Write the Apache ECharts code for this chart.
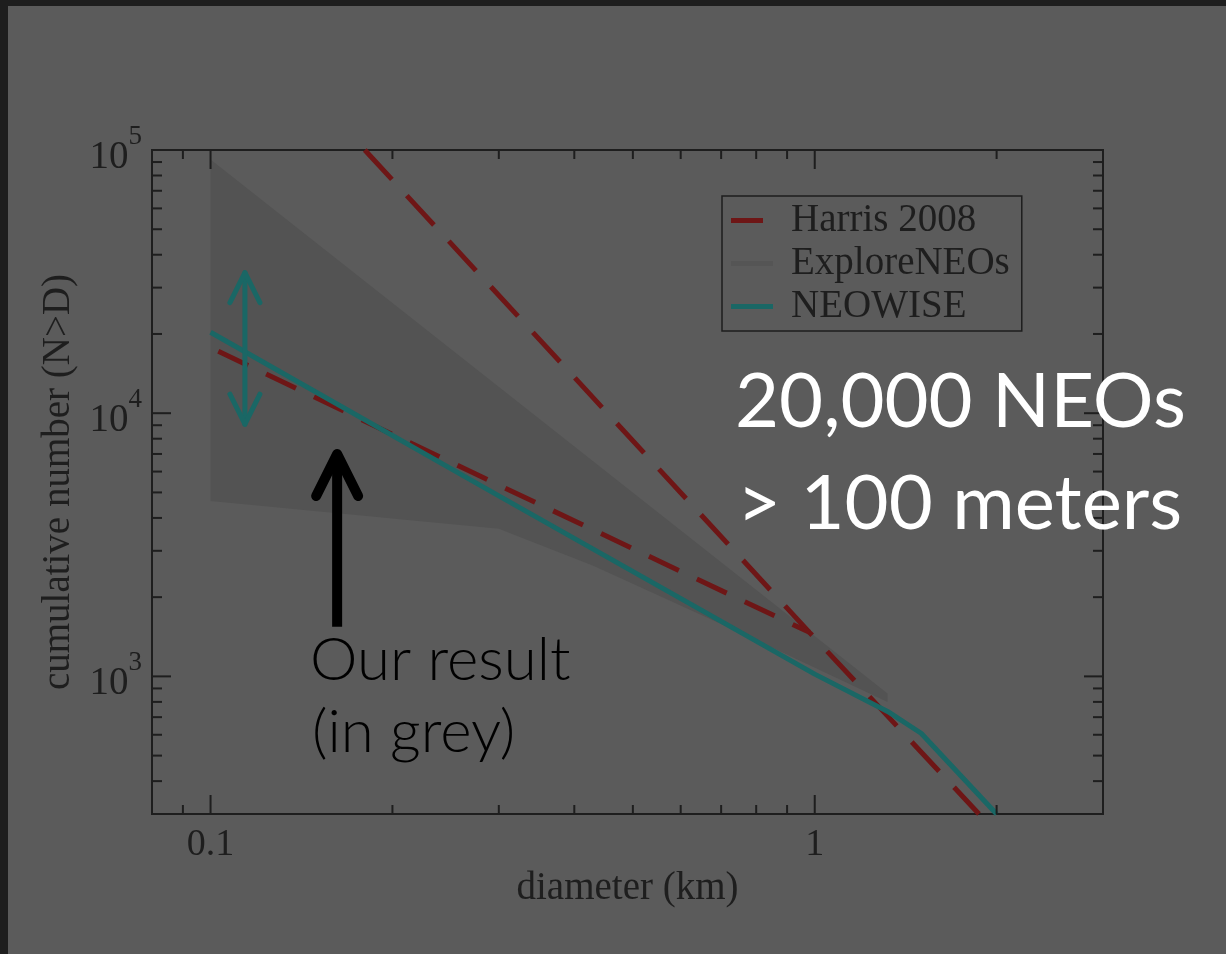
<!DOCTYPE html>
<html>
<head>
<meta charset="utf-8">
<script src="https://cdn.jsdelivr.net/npm/echarts@6/dist/echarts.min.js"></script>
<style>
html,body{margin:0;padding:0;background:#5b5b5b;}
#chart{width:1226px;height:954px;}
</style>
</head>
<body>
<div id="chart"></div>
<script>
// ---- data ----
const xRange = [0.08, 3];
const yRange = [300, 100000];
const xMajorTicks = [0.1, 1];
const xMinorTicks = [0.09, 0.2, 0.3, 0.4, 0.5, 0.6, 0.7, 0.8, 0.9, 2];
const yMajorTicks = [1000, 10000, 100000];
const yMinorTicks = [400, 500, 600, 700, 800, 900,
  2000, 3000, 4000, 5000, 6000, 7000, 8000, 9000,
  20000, 30000, 40000, 50000, 60000, 70000, 80000, 90000];
const harrisSteep = [[0.18, 100000], [0.98, 1470], [1.87, 300]];
const harrisShallow = [[0.103, 17200], [0.3, 5330], [0.98, 1470]];
const neowise = [[0.1, 20300], [0.3, 4850], [1, 1020], [1.32, 736], [1.5, 608], [2.0, 300]];
const exploreUpper = [[0.1, 92000], [1.32, 860]];
const exploreLower = [[0.1, 4640], [0.3, 3640], [0.43, 2630], [0.79, 1394], [1.32, 800]];
const tealArrow = [[0.114, 34200], [0.114, 9080]];
const blackArrow = [[0.162, 7000], [0.162, 1545]];

const DARK = '#1e1e1e', RED = '#6e1616', TEAL = '#1a6765', SHADE = '#535353';
const SERIF = 'Liberation Serif';

const chart = echarts.init(document.getElementById('chart'));

function isDecade(v) {
  const l = Math.log10(v);
  return Math.abs(l - Math.round(l)) < 1e-6;
}

const explorePoly = exploreUpper.concat(exploreLower.slice().reverse());

const option = {
  backgroundColor: '#5b5b5b',
  animation: false,
  grid: { left: 152, right: 123, top: 150, bottom: 140, show: true, borderColor: DARK, borderWidth: 2, backgroundColor: 'transparent' },
  xAxis: {
    type: 'log', logBase: 10, min: xRange[0], max: xRange[1],
    axisLine: { show: false }, axisTick: { show: false }, splitLine: { show: false },
    axisLabel: {
      margin: 12, color: DARK, fontFamily: SERIF, fontSize: 38,
      formatter: function (v) {
        if (Math.abs(v - 0.1) < 1e-9) return '0.1';
        if (Math.abs(v - 1) < 1e-9) return '1';
        return '';
      }
    },
    name: 'diameter (km)', nameLocation: 'middle', nameGap: 48,
    nameTextStyle: { color: DARK, fontFamily: SERIF, fontSize: 39 }
  },
  yAxis: {
    type: 'log', logBase: 10, min: yRange[0], max: yRange[1],
    axisLine: { show: false }, axisTick: { show: false }, splitLine: { show: false },
    axisLabel: {
      margin: 9, color: DARK,
      formatter: function (v) {
        if (!isDecade(v)) return '';
        return '{b|10}{s|' + Math.round(Math.log10(v)) + '}{h| }';
      },
      rich: {
        b: { fontFamily: SERIF, fontSize: 39, lineHeight: 38, color: DARK, verticalAlign: 'bottom' },
        s: { fontFamily: SERIF, fontSize: 27, lineHeight: 26, color: DARK, verticalAlign: 'top' },
        h: { fontSize: 1, lineHeight: 54, width: 1 }
      }
    },
    name: 'cumulative number (N>D)', nameLocation: 'middle', nameGap: 70, nameRotate: 90,
    nameTextStyle: { color: DARK, fontFamily: SERIF, fontSize: 39 }
  },
  legend: {
    orient: 'vertical', left: 722, top: 196,
    padding: [5, 12, 5, 9], itemGap: 4, itemWidth: 42, itemHeight: 14,
    borderColor: DARK, borderWidth: 1.5, selectedMode: false,
    textStyle: { fontFamily: SERIF, fontSize: 39, lineHeight: 39, color: DARK, padding: [0, 0, 0, 13] },
    data: [
      { name: 'Harris 2008', icon: 'path://M0 0H32V5H0ZM42 2.5', itemStyle: { color: RED, borderWidth: 0 } },
      { name: 'ExploreNEOs', icon: 'path://M0 0H42V5H0Z', itemStyle: { color: '#555555', borderWidth: 0 } },
      { name: 'NEOWISE', icon: 'path://M0 0H42V5H0Z', itemStyle: { color: TEAL, borderWidth: 0 } }
    ]
  },
  graphic: [
    { type: 'rect', left: 0, top: 0, shape: { width: 1226, height: 6 }, style: { fill: DARK }, z: 100 },
    { type: 'rect', left: 0, top: 0, shape: { width: 8, height: 954 }, style: { fill: DARK }, z: 100 },
    { type: 'text', x: 735, y: 402, z: 50, style: { text: '20,000 NEOs', fill: '#ffffff', font: 'normal 76px Lato', textVerticalAlign: 'middle' } },
    { type: 'text', x: 737, y: 504, z: 50, style: { text: '> 100 meters', fill: '#ffffff', font: 'normal 76px Lato', textVerticalAlign: 'middle' } },
    { type: 'text', x: 310, y: 661, z: 50, style: { text: 'Our result', fill: '#000000', font: '300 60px Lato', textVerticalAlign: 'middle' } },
    { type: 'text', x: 312, y: 733, z: 50, style: { text: '(in grey)', fill: '#000000', font: '300 60px Lato', textVerticalAlign: 'middle' } }
  ],
  series: [
    {
      name: 'ExploreNEOs', type: 'custom', z: 1, silent: true,
      itemStyle: { color: '#555555' },
      data: explorePoly,
      renderItem: function (params, api) {
        if (params.dataIndex !== 0) return null;
        const pts = explorePoly.map(p => api.coord(p));
        return { type: 'polygon', shape: { points: pts }, style: { fill: SHADE } };
      }
    },
    {
      name: 'Harris 2008', type: 'line', z: 3, data: harrisSteep, symbol: 'none', showSymbol: false,
      lineStyle: { color: RED, width: 5, type: [40, 22] }, itemStyle: { color: RED }
    },
    {
      name: 'Harris 2008', type: 'line', z: 3, data: harrisShallow, symbol: 'none', showSymbol: false,
      lineStyle: { color: RED, width: 5, type: [33, 20] }, itemStyle: { color: RED }
    },
    {
      name: 'NEOWISE', type: 'line', z: 4, data: neowise, symbol: 'none', showSymbol: false,
      lineStyle: { color: TEAL, width: 5 }, itemStyle: { color: TEAL }
    },
    {
      name: 'tealArrow', type: 'custom', z: 5, silent: true, data: tealArrow,
      renderItem: function (params, api) {
        if (params.dataIndex !== 0) return null;
        const a = api.coord(tealArrow[0]), b = api.coord(tealArrow[1]);
        const st = { stroke: TEAL, lineWidth: 5, fill: null, lineCap: 'round', lineJoin: 'round' };
        return { type: 'group', children: [
          { type: 'line', shape: { x1: a[0], y1: a[1], x2: b[0], y2: b[1] }, style: st },
          { type: 'polyline', shape: { points: [[a[0] - 15, a[1] + 30], [a[0], a[1]], [a[0] + 15, a[1] + 30]] }, style: st },
          { type: 'polyline', shape: { points: [[b[0] - 15, b[1] - 30], [b[0], b[1]], [b[0] + 15, b[1] - 30]] }, style: st }
        ] };
      }
    },
    {
      name: 'blackArrow', type: 'custom', z: 6, silent: true, data: blackArrow,
      renderItem: function (params, api) {
        if (params.dataIndex !== 0) return null;
        const a = api.coord(blackArrow[0]), b = api.coord(blackArrow[1]);
        return { type: 'group', children: [
          { type: 'line', shape: { x1: a[0], y1: a[1] + 4, x2: b[0], y2: b[1] }, style: { stroke: '#000', lineWidth: 10, lineCap: 'butt' } },
          { type: 'polyline', shape: { points: [[a[0] - 21, a[1] + 42], [a[0], a[1]], [a[0] + 21, a[1] + 42]] }, style: { stroke: '#000', lineWidth: 10, fill: null, lineCap: 'round', lineJoin: 'round' } }
        ] };
      }
    },
    {
      name: 'xTicks', type: 'custom', z: 7, silent: true, clip: false,
      data: xMajorTicks.map(v => [v, yRange[0], 1]).concat(xMinorTicks.map(v => [v, yRange[0], 0])),
      renderItem: function (params, api) {
        const v = api.value(0), major = api.value(2);
        const p0 = api.coord([v, yRange[0]]), p1 = api.coord([v, yRange[1]]);
        const len = major ? 19 : 9;
        const st = { stroke: DARK, lineWidth: 2 };
        return { type: 'group', children: [
          { type: 'line', shape: { x1: p0[0], y1: p0[1], x2: p0[0], y2: p0[1] - len }, style: st },
          { type: 'line', shape: { x1: p1[0], y1: p1[1], x2: p1[0], y2: p1[1] + len }, style: st }
        ] };
      }
    },
    {
      name: 'yTicks', type: 'custom', z: 7, silent: true, clip: false,
      data: yMajorTicks.map(v => [xRange[0], v, 1]).concat(yMinorTicks.map(v => [xRange[0], v, 0])),
      renderItem: function (params, api) {
        const v = api.value(1), major = api.value(2);
        const p0 = api.coord([xRange[0], v]), p1 = api.coord([xRange[1], v]);
        const len = major ? 19 : 10;
        const st = { stroke: DARK, lineWidth: 2 };
        return { type: 'group', children: [
          { type: 'line', shape: { x1: p0[0], y1: p0[1], x2: p0[0] + len, y2: p0[1] }, style: st },
          { type: 'line', shape: { x1: p1[0], y1: p1[1], x2: p1[0] - len, y2: p1[1] }, style: st }
        ] };
      }
    }
  ]
};
chart.setOption(option);
</script>
</body>
</html>
